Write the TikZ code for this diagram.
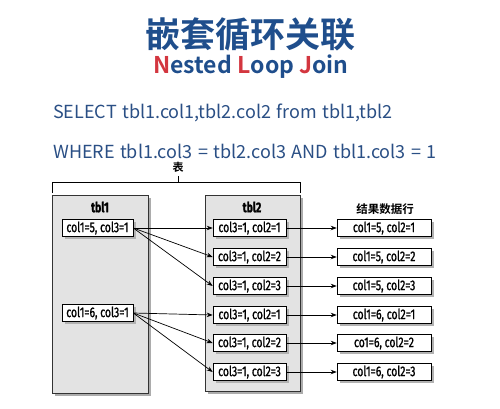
\documentclass[tikz,border=0pt]{standalone}
\usepackage{fontspec}
\usepackage{xcolor}
\setmainfont{Noto Sans CJK SC}[BoldFont={Noto Sans CJK SC Bold}]
\newfontfamily\sqlfont{Noto Sans CJK SC}[WordSpace=1.35]
\newfontfamily\labelfont{Fira Sans}[FakeStretch=0.74,FakeBold=1.2]
\newfontfamily\cjklabel{Noto Sans CJK SC Bold}
\usetikzlibrary{arrows.meta,shadows}

\definecolor{titleblue}{HTML}{1F4E8C}
\definecolor{sqlblue}{HTML}{2A4F85}
\definecolor{nljred}{HTML}{D3363F}

\tikzset{
	panel/.style={draw=black!80,fill=gray!22,line width=0.6pt,
		drop shadow={shadow xshift=3pt,shadow yshift=-3pt,fill=gray!65,opacity=1}},
	rowbox/.style={draw=black,fill=white,line width=0.6pt,inner sep=1pt,
		minimum height=17pt,font=\labelfont\fontsize{14}{14}\selectfont,
		drop shadow={shadow xshift=2.5pt,shadow yshift=-2.5pt,fill=gray!60,opacity=1}},
	caption/.style={font=\labelfont\bfseries\fontsize{14}{14}\selectfont},
}

\begin{document}
\begin{tikzpicture}[x=1pt,y=-1pt]
		\useasboundingbox[fill=white] (0,0) rectangle (500,409);
		% headings
		\node[text=titleblue,font=\bfseries\fontsize{35}{35}\selectfont] (T) at (250,34) {嵌套循环关联};
		\node[text=titleblue,font=\bfseries\fontsize{23}{23}\selectfont] (T') at (251,67)
			{\textcolor{nljred}{N}ested \textcolor{nljred}{L}oop \textcolor{nljred}{J}oin};
		\node[text=sqlblue,anchor=base west,inner sep=0pt,font=\sqlfont\fontsize{18}{18}\selectfont] (Q) at (53,118)
			{SELECT tbl1.col1,tbl2.col2 from tbl1,tbl2};
		\node[text=sqlblue,anchor=base west,inner sep=0pt,font=\sqlfont\fontsize{18}{18}\selectfont] (Q') at (53,158)
			{WHERE tbl1.col3 = tbl2.col3 AND tbl1.col3 = 1};
		%
		% brace over both tables
		\node[font=\cjklabel\fontsize{11}{11}\selectfont] (S) at (178,167) {表};
		\draw[line width=0.6pt] (52,193) -- (52,182) -- (300,182) -- (300,193);
		\draw[line width=0.6pt] (178,182) -- (S.south);
		%
		% tables
		\node[panel,minimum width=96pt,minimum height=198pt] (P) at (100,294) {};
		\node[panel,minimum width=95pt,minimum height=196pt] (P') at (252.5,293) {};
		\node[caption] at (100,207) {tbl1};
		\node[caption] at (252,207) {tbl2};
		\node[font=\cjklabel\fontsize{11.5}{11.5}\selectfont] at (385,209) {结果数据行};
		%
		% rows
		\node[rowbox,minimum width=71pt] (A1) at (97.5,228) {col1=5, col3=1};
		\node[rowbox,minimum width=71pt] (A2) at (97.5,313) {col1=6, col3=1};
		\node[rowbox,minimum width=73pt] (B1) at (249.5,228) {col3=1, col2=1};
		\node[rowbox,minimum width=73pt] (B2) at (249.5,257) {col3=1, col2=2};
		\node[rowbox,minimum width=73pt] (B3) at (249.5,286) {col3=1, col2=3};
		\node[rowbox,minimum width=73pt] (B4) at (249.5,315) {col3=1, col2=1};
		\node[rowbox,minimum width=73pt] (B5) at (249.5,343) {col3=1, col2=2};
		\node[rowbox,minimum width=73pt] (B6) at (249.5,372) {col3=1, col2=3};
		\node[rowbox,minimum width=94pt] (C1) at (384,228) {col1=5, col2=1};
		\node[rowbox,minimum width=94pt] (C2) at (384,257) {col1=5, col2=2};
		\node[rowbox,minimum width=94pt] (C3) at (384,286) {col1=5, col2=3};
		\node[rowbox,minimum width=94pt] (C4) at (384,315) {col1=6, col2=1};
		\node[rowbox,minimum width=94pt] (C5) at (384,343) {co1=6, col2=2};
		\node[rowbox,minimum width=94pt] (C6) at (384,372) {col1=6, col2=3};
		%
		\path[-{Stealth[length=6pt,width=4.5pt]},line width=0.7pt]
		% outer loop to inner loop
		(A1.east) edge (B1.west)
		(A1.east) edge (B2.west)
		(A1.east) edge (B3.west)
		(A2.east) edge (B4.west)
		(A2.east) edge (B5.west)
		(A2.east) edge (B6.west)
		% matches to result rows
		(B1) edge (C1)
		(B2) edge (C2)
		(B3) edge (C3)
		(B4) edge (C4)
		(B5) edge (C5)
		(B6) edge (C6);
\end{tikzpicture}
\end{document}
